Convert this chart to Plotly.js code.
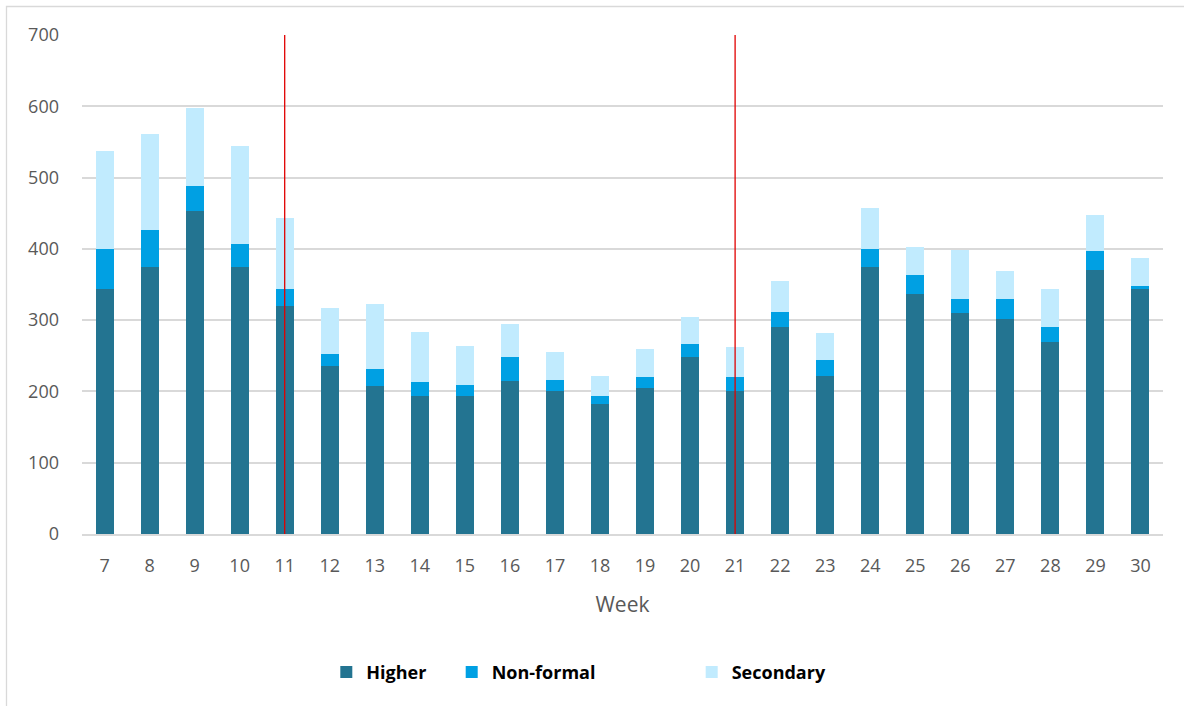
<!DOCTYPE html>
<html>
<head>
<meta charset="utf-8">
<script src="https://cdn.plot.ly/plotly-3.0.1.min.js"></script>
<style>
  html, body { margin: 0; padding: 0; background: #ffffff; overflow: hidden; }
  #chart { width: 1184px; height: 706px; }
</style>
</head>
<body>
<div id="chart"></div>
<script>
// Weekly counts by education type
const weeks = ['7','8','9','10','11','12','13','14','15','16','17','18','19','20','21','22','23','24','25','26','27','28','29','30'];
const higher = [343, 374, 453, 374, 320, 235, 207, 193, 194, 215, 200, 183, 205, 249, 200, 290, 222, 374, 337, 310, 302, 269, 370, 343];
const nonFormal = [57, 53, 35, 33, 24, 18, 24, 20, 15, 33, 16, 11, 15, 18, 20, 21, 22, 26, 27, 20, 28, 21, 27, 5];
const secondary = [137, 134, 110, 137, 99, 64, 91, 70, 55, 47, 40, 27, 40, 37, 42, 44, 38, 57, 39, 69, 39, 54, 50, 39];

// Weeks marked with a vertical reference line, and the line's height
const markedWeeks = ['11', '21'];
const markerTop = 700;

const seriesNames = ['Higher', 'Non-formal', 'Secondary'];
const seriesColors = ['#237491', '#00A0E3', '#C1EBFE'];
const seriesValues = [higher, nonFormal, secondary];
const legendIds = ['legend', 'legend2', 'legend3'];

const traces = seriesValues.map((vals, i) => ({
  type: 'bar',
  name: seriesNames[i],
  x: weeks,
  y: vals,
  marker: { color: seriesColors[i], line: { width: 0 } },
  legend: legendIds[i],
  hoverinfo: 'x+y+name'
}));

const legendFont = { family: 'Open Sans, Noto Sans, sans-serif', size: 18, color: '#000000', weight: 'bold' };
function legendAt(x) {
  return {
    orientation: 'h', x: x, xanchor: 'left', y: -0.277, yanchor: 'middle',
    font: legendFont, bgcolor: 'rgba(0,0,0,0)', borderwidth: 0, itemclick: false, itemdoubleclick: false
  };
}

// Category axis: shapes are placed by category index
const shapes = markedWeeks.map(w => ({
  type: 'line', xref: 'x', yref: 'y',
  x0: weeks.indexOf(w), x1: weeks.indexOf(w), y0: 0, y1: markerTop,
  line: { color: '#E00000', width: 1.3 }
}));

// Light frame on the left and top edges
shapes.push({
  type: 'rect', xref: 'paper', yref: 'paper',
  x0: (6.5 - 82) / 1081, x1: 1.2, y0: -0.8, y1: 1 + (35 - 6.5) / 499,
  line: { color: '#D9D9D9', width: 1.3 }, fillcolor: 'rgba(0,0,0,0)', layer: 'below'
});

const tickFont = { family: 'Open Sans, Noto Sans, sans-serif', size: 18, color: '#595959' };

const layout = {
  width: 1184,
  height: 706,
  margin: { l: 82, r: 21, t: 35, b: 172, autoexpand: false },
  paper_bgcolor: '#ffffff',
  plot_bgcolor: '#ffffff',
  barmode: 'stack',
  bargap: 0.6,
  showlegend: true,
  legend: legendAt(0.226),
  legend2: legendAt(0.342),
  legend3: legendAt(0.564),
  xaxis: {
    type: 'category',
    tickfont: tickFont,
    ticks: '',
    ticklabelstandoff: 14,
    showgrid: false,
    showline: true,
    linecolor: '#D9D9D9',
    linewidth: 2,
    zeroline: false,
    title: { text: 'Week', font: { family: 'Open Sans, Noto Sans, sans-serif', size: 21, color: '#595959' }, standoff: 22 }
  },
  yaxis: {
    range: [0, 700],
    dtick: 100,
    tickfont: tickFont,
    ticks: '',
    ticklabelstandoff: 22,
    showgrid: true,
    gridcolor: '#D9D9D9',
    gridwidth: 2,
    zeroline: false,
    showline: false,
    fixedrange: true
  },
  shapes: shapes
};

Plotly.newPlot('chart', traces, layout, { displayModeBar: false, staticPlot: true });
</script>
</body>
</html>
